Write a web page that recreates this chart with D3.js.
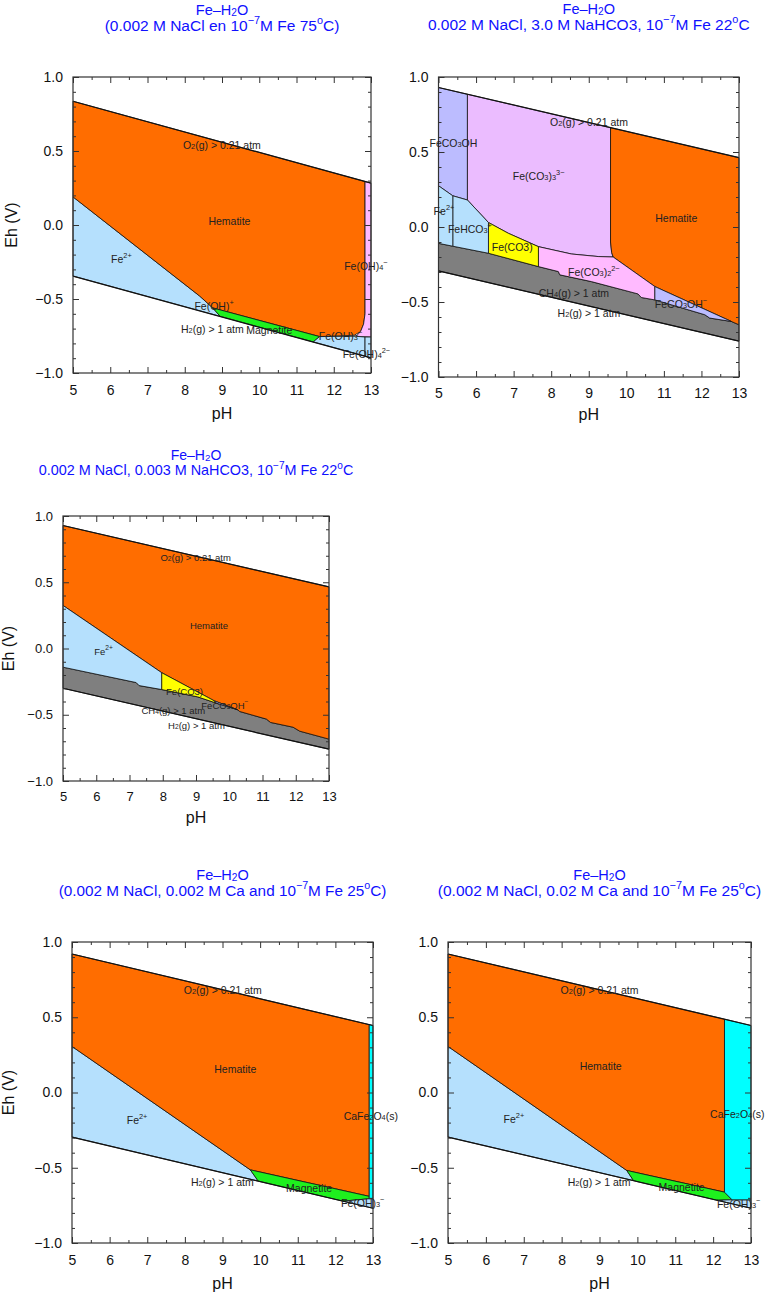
<!DOCTYPE html>
<html>
<head>
<meta charset="utf-8">
<title>Fe-H2O Eh-pH diagrams</title>
<script src="https://d3js.org/d3.v7.min.js"></script>
<style>
  body { margin: 0; background: #fff; }
  text { font-family: "Liberation Sans", Arial, Helvetica, sans-serif; }
</style>
</head>
<body>
<svg width="775" height="1295"></svg>
<script>
// ---- axis ticks ----
var phTicks = [5, 6, 7, 8, 9, 10, 11, 12, 13];
var phMinor = [5.5, 6.5, 7.5, 8.5, 9.5, 10.5, 11.5, 12.5];
var ehTicks = [-1, -0.5, 0, 0.5, 1];
var ehMinor = [-0.9, -0.8, -0.7, -0.6, -0.4, -0.3, -0.2, -0.1, 0.1, 0.2, 0.3, 0.4, 0.6, 0.7, 0.8, 0.9];

// ---- panel 1 : 75 C ----
var p1O2 = [[5, 0.836], [13, 0.283]];
var p1H2 = [[5, -0.345], [13, -0.898]];
var p1Hematite = [[5, 0.836], [12.84, 0.294], [12.84, -0.6], [12.8, -0.67], [12.72, -0.72], [12.55, -0.745], [11.62, -0.754], [8.75, -0.56], [8.4, -0.48], [5, 0.19]];
var p1Fe2 = [[5, 0.19], [8.4, -0.48], [8.75, -0.56], [8.95, -0.617], [5, -0.345]];
var p1Magnetite = [[8.75, -0.56], [11.62, -0.754], [11.45, -0.79], [8.95, -0.617]];
var p1FeOH4 = [[12.84, 0.294], [13, 0.283], [13, -0.757], [12.6, -0.752], [12.72, -0.72], [12.8, -0.67], [12.84, -0.6]];
var p1FeOH3 = [[11.62, -0.754], [12.6, -0.752], [12.84, -0.757], [12.84, -0.886], [11.45, -0.79]];
var p1FeOH4b = [[12.84, -0.757], [13, -0.757], [13, -0.898], [12.84, -0.886]];
var p1Labels = [
  ["O_{2}(g) > 0.21 atm", 7.95, 0.54, "start"],
  ["Hematite", 9.2, 0.03, "middle"],
  ["Fe^{2+}", 6.3, -0.23, "middle"],
  ["Fe(OH)_{4}^{−}", 12.28, -0.275, "start"],
  ["Fe(OH)^{+}", 8.26, -0.55, "start"],
  ["H_{2}(g) > 1 atm", 7.9, -0.70, "start"],
  ["Magnetite", 9.65, -0.71, "start"],
  ["Fe(OH)_{3}^{−}", 11.6, -0.75, "start"],
  ["Fe(OH)_{4}^{2−}", 12.24, -0.87, "start"]
];

// ---- panel 2 : 3.0 M NaHCO3, 22 C ----
var p2O2 = [[5, 0.93], [13, 0.462]];
var p2H2 = [[5, -0.293], [13, -0.761]];
var p2CH4 = [[5, -0.109], [5.38, -0.128], [6.33, -0.175], [7.66, -0.264], [8.19, -0.297], [8.23, -0.319], [9.07, -0.364], [10.31, -0.446], [10.4, -0.47], [10.76, -0.486], [12.09, -0.585], [12.22, -0.607], [12.8, -0.63], [13, -0.652]];
var p2FeCO3OH = [[5, 0.93], [5.77, 0.885], [5.77, 0.18], [5.38, 0.208], [5, 0.275]];
var p2FeCO33 = [[5.77, 0.885], [9.58, 0.662], [9.58, -0.10], [9.61, -0.17], [9.65, -0.2], [9.25, -0.197], [8.54, -0.18], [7.66, -0.131], [6.86, -0.042], [6.33, 0.03], [5.77, 0.18]];
var p2Hematite = [[9.58, 0.662], [13, 0.462], [13, -0.652], [12.8, -0.63], [10.76, -0.397], [9.65, -0.2], [9.61, -0.17], [9.58, -0.10]];
var p2FeCO32 = [[7.66, -0.131], [8.54, -0.18], [9.25, -0.197], [9.65, -0.2], [10.76, -0.397], [10.76, -0.486], [10.4, -0.47], [10.31, -0.446], [9.07, -0.364], [8.23, -0.319], [8.19, -0.297], [7.66, -0.264]];
var p2FeCO3OHm = [[10.76, -0.397], [12.8, -0.63], [12.22, -0.607], [12.09, -0.585], [10.76, -0.486]];
var p2FeCO3 = [[6.33, 0.03], [6.86, -0.042], [7.66, -0.131], [7.66, -0.264], [6.33, -0.175]];
var p2FeHCO3 = [[5.38, 0.208], [5.77, 0.18], [6.33, 0.03], [6.33, -0.175], [5.38, -0.128]];
var p2Fe2 = [[5, 0.275], [5.38, 0.208], [5.38, -0.128], [5, -0.109]];
var p2Labels = [
  ["O_{2}(g) > 0.21 atm", 7.97, 0.70, "start"],
  ["FeCO_{3}OH", 4.76, 0.56, "start"],
  ["Fe(CO_{3})_{3}^{3−}", 6.98, 0.34, "start"],
  ["Hematite", 11.33, 0.06, "middle"],
  ["Fe^{2+}", 4.87, 0.11, "start"],
  ["FeHCO_{3}^{+}", 5.25, -0.015, "start"],
  ["Fe(CO3)", 6.42, -0.13, "start"],
  ["Fe(CO_{3})_{2}^{2−}", 8.45, -0.30, "start"],
  ["CH_{4}(g) > 1 atm", 7.67, -0.44, "start"],
  ["FeCO_{3}OH^{−}", 10.76, -0.51, "start"],
  ["H_{2}(g) > 1 atm", 8.17, -0.575, "start"]
];

// ---- panel 3 : 0.003 M NaHCO3, 22 C ----
var p3O2 = [[5, 0.928], [13, 0.465]];
var p3H2 = [[5, -0.30], [13, -0.76]];
var p3CH4 = [[5, -0.141], [7.2, -0.257], [7.29, -0.28], [7.97, -0.31], [9.05, -0.365], [9.62, -0.413], [10.25, -0.462], [10.31, -0.475], [11.12, -0.533], [11.24, -0.558], [11.92, -0.594], [12.12, -0.624], [13, -0.684]];
var p3Hematite = [[5, 0.928], [13, 0.465], [13, -0.684], [12.12, -0.624], [11.92, -0.594], [11.24, -0.558], [11.12, -0.533], [10.31, -0.475], [10.25, -0.462], [9.55, -0.395], [7.97, -0.183], [5, 0.325]];
var p3Fe2 = [[5, 0.325], [7.97, -0.183], [7.97, -0.31], [7.29, -0.28], [7.2, -0.257], [5, -0.141]];
var p3FeCO3 = [[7.97, -0.183], [9.55, -0.395], [9.62, -0.413], [9.05, -0.365], [7.97, -0.31]];
var p3FeCO3OHm = [[9.55, -0.395], [10.25, -0.462], [9.62, -0.413]];
var p3Labels = [
  ["O_{2}(g) > 0.21 atm", 7.93, 0.694, "start"],
  ["Hematite", 9.39, 0.18, "middle"],
  ["Fe^{2+}", 6.22, -0.02, "middle"],
  ["Fe(CO3)", 8.1, -0.317, "start"],
  ["FeCO_{3}OH^{−}", 9.16, -0.425, "start"],
  ["CH_{4}(g) > 1 atm", 7.36, -0.463, "start"],
  ["H_{2}(g) > 1 atm", 8.16, -0.58, "start"]
];

// ---- panel 4 : 0.002 M Ca, 25 C ----
var p4O2 = [[5, 0.92], [13, 0.445]];
var p4H2 = [[5, -0.296], [13, -0.769]];
var p4Hematite = [[5, 0.92], [12.9, 0.451], [12.9, -0.69], [9.74, -0.514], [5, 0.306]];
var p4Fe2 = [[5, 0.306], [9.74, -0.514], [9.95, -0.589], [5, -0.296]];
var p4Magnetite = [[9.74, -0.514], [12.9, -0.69], [12.9, -0.706], [12.2, -0.722], [10.2, -0.604], [9.95, -0.589]];
var p4FeOH3 = [[12.2, -0.722], [12.9, -0.706], [13, -0.705], [13, -0.769]];
var p4CaFe2O4 = [[12.9, 0.451], [13, 0.445], [13, -0.705], [12.9, -0.706]];
var p4Labels = [
  ["O_{2}(g) > 0.21 atm", 7.97, 0.68, "start"],
  ["Hematite", 9.34, 0.155, "middle"],
  ["Fe^{2+}", 6.73, -0.18, "middle"],
  ["CaFe_{2}O_{4}(s)", 12.22, -0.153, "start"],
  ["H_{2}(g) > 1 atm", 8.16, -0.598, "start"],
  ["Magnetite", 10.69, -0.636, "start"],
  ["Fe(OH)_{3}^{−}", 12.15, -0.735, "start"]
];

// ---- panel 5 : 0.02 M Ca, 25 C ----
var p5O2 = [[5, 0.92], [13, 0.445]];
var p5H2 = [[5, -0.296], [13, -0.769]];
var p5Hematite = [[5, 0.92], [12.3, 0.488], [12.3, -0.662], [9.72, -0.518], [5, 0.306]];
var p5Fe2 = [[5, 0.306], [9.72, -0.518], [9.9, -0.586], [5, -0.296]];
var p5Magnetite = [[9.72, -0.518], [12.3, -0.662], [12.5, -0.713], [12.1, -0.716], [10.05, -0.596], [9.9, -0.586]];
var p5FeOH3 = [[12.1, -0.716], [12.5, -0.713], [13, -0.713], [13, -0.769]];
var p5CaFe2O4 = [[12.3, 0.488], [13, 0.445], [13, -0.713], [12.5, -0.713], [12.3, -0.662]];
var p5Labels = [
  ["O_{2}(g) > 0.21 atm", 7.97, 0.68, "start"],
  ["Hematite", 9.03, 0.177, "middle"],
  ["Fe^{2+}", 6.74, -0.177, "middle"],
  ["CaFe_{2}O_{4}(s)", 11.92, -0.142, "start"],
  ["H_{2}(g) > 1 atm", 8.16, -0.598, "start"],
  ["Magnetite", 10.56, -0.63, "start"],
  ["Fe(OH)_{3}^{−}", 12.1, -0.74, "start"]
];

var titles = [
  ["Fe–H_{2}O", "(0.002 M NaCl en 10^{−7}M Fe 75^{o}C)"],
  ["Fe–H_{2}O", "0.002 M NaCl, 3.0 M NaHCO3, 10^{−7}M Fe 22^{o}C"],
  ["Fe–H_{2}O", "0.002 M NaCl, 0.003 M NaHCO3, 10^{−7}M Fe 22^{o}C"],
  ["Fe–H_{2}O", "(0.002 M NaCl, 0.002 M Ca and 10^{−7}M Fe 25^{o}C)"],
  ["Fe–H_{2}O", "(0.002 M NaCl, 0.02 M Ca and 10^{−7}M Fe 25^{o}C)"]
];

var COL = {
  hem: "#ff6d00", fe2: "#b5e0fd", mag: "#1ef01e", cyan: "#00ffff",
  gray: "#7f7f7f", lav: "#bcbcff", violet: "#ebbcff", pink: "#ffbaff", yellow: "#ffff00"
};

// layout of each panel
var panels = [
  { x0: 73, x1: 371, y0: 77, y1: 373, t: titles[0], tY: [10, 25], tFs: [14.5, 15.5], fs: 14, lfs: 10.5, pad: 12, xT: 413, yT: 11,
    o2: p1O2, h2: p1H2, labels: p1Labels,
    regions: [[p1Fe2, COL.fe2], [p1Hematite, COL.hem], [p1Magnetite, COL.mag], [p1FeOH4, COL.pink], [p1FeOH3, COL.fe2], [p1FeOH4b, COL.fe2]] },
  { x0: 438.5, x1: 739, y0: 77, y1: 377, t: titles[1], tY: [9, 24], tFs: [14.5, 15.5], fs: 14, lfs: 10.5, pad: 11, xT: 414, yT: null,
    o2: p2O2, h2: p2H2, labels: p2Labels,
    regions: [[p2CH4.concat([[13, -0.761], [5, -0.293]]), COL.gray], [p2FeCO3OH, COL.lav], [p2FeCO33, COL.violet], [p2Hematite, COL.hem],
              [p2FeCO32, COL.pink], [p2FeCO3OHm, COL.lav], [p2FeCO3, COL.yellow], [p2FeHCO3, COL.fe2], [p2Fe2, COL.fe2]] },
  { x0: 63, x1: 329, y0: 516, y1: 781, t: titles[2], tY: [455, 470], tFs: [14, 14.4], fs: 13, lfs: 9.5, pad: 11, xT: 817, yT: 8,
    o2: p3O2, h2: p3H2, labels: p3Labels,
    regions: [[p3CH4.concat([[13, -0.76], [5, -0.30]]), COL.gray], [p3Hematite, COL.hem], [p3Fe2, COL.fe2], [p3FeCO3, COL.yellow], [p3FeCO3OHm, COL.lav]] },
  { x0: 72, x1: 373, y0: 942, y1: 1243, t: titles[3], tY: [875, 890], tFs: [14.5, 15.3], fs: 14, lfs: 10.5, pad: 12, xT: 1283, yT: 8,
    o2: p4O2, h2: p4H2, labels: p4Labels,
    regions: [[p4Fe2, COL.fe2], [p4Hematite, COL.hem], [p4Magnetite, COL.mag], [p4FeOH3, COL.fe2], [p4CaFe2O4, COL.cyan]] },
  { x0: 448, x1: 751, y0: 942, y1: 1243, t: titles[4], tY: [875, 890], tFs: [14.5, 15.5], fs: 14, lfs: 10.5, pad: 12, xT: 1283, yT: null,
    o2: p5O2, h2: p5H2, labels: p5Labels,
    regions: [[p5Fe2, COL.fe2], [p5Hematite, COL.hem], [p5Magnetite, COL.mag], [p5FeOH3, COL.fe2], [p5CaFe2O4, COL.cyan]] }
];

var svg = d3.select("svg");

// writes "a_{b}c^{d}" as text with sub/superscripts
function rich(sel, str) {
  str.split(/([_^]\{[^}]*\})/).filter(function (s) { return s; }).forEach(function (p) {
    if (p[0] === "_" && p[1] === "{") {
      sel.append("tspan").attr("font-size", "70%").attr("baseline-shift", "-22%").text(p.slice(2, -1));
    } else if (p[0] === "^" && p[1] === "{") {
      sel.append("tspan").attr("font-size", "70%").attr("baseline-shift", "45%").text(p.slice(2, -1));
    } else {
      sel.append("tspan").text(p);
    }
  });
}

panels.forEach(function (p) {
  var x = d3.scaleLinear().domain([5, 13]).range([p.x0, p.x1]);
  var y = d3.scaleLinear().domain([-1, 1]).range([p.y1, p.y0]);
  var line = d3.line().x(function (d) { return x(d[0]); }).y(function (d) { return y(d[1]); });
  var g = svg.append("g");
  var w = p.x1 - p.x0, h = p.y1 - p.y0;

  // regions
  g.selectAll("path.reg").data(p.regions).enter().append("path")
    .attr("class", "reg")
    .attr("d", function (r) { return line(r[0]) + "Z"; })
    .style("fill", function (r) { return r[1]; })
    .style("stroke", "#111").style("stroke-width", 0.8).style("stroke-linejoin", "round");

  // water stability limits
  [p.o2, p.h2].forEach(function (l) {
    g.append("path").attr("d", line(l)).style("fill", "none").style("stroke", "#111").style("stroke-width", 1.2);
  });

  // ticks, inward on all four sides
  function fmt(d) { return d3.format(".1f")(d); }
  g.append("g").attr("transform", "translate(0," + p.y1 + ")")
    .call(d3.axisBottom(x).tickValues(phTicks).tickSizeInner(-6).tickSizeOuter(0).tickPadding(p.pad));
  g.append("g").attr("transform", "translate(0," + p.y1 + ")")
    .call(d3.axisBottom(x).tickValues(phMinor).tickSizeInner(-3).tickSizeOuter(0).tickFormat(""));
  g.append("g").attr("transform", "translate(0," + p.y0 + ")")
    .call(d3.axisTop(x).tickValues(phTicks).tickSizeInner(-6).tickSizeOuter(0).tickFormat(""));
  g.append("g").attr("transform", "translate(0," + p.y0 + ")")
    .call(d3.axisTop(x).tickValues(phMinor).tickSizeInner(-3).tickSizeOuter(0).tickFormat(""));
  g.append("g").attr("transform", "translate(" + p.x0 + ",0)")
    .call(d3.axisLeft(y).tickValues(ehTicks).tickSizeInner(-6).tickSizeOuter(0).tickPadding(10).tickFormat(fmt));
  g.append("g").attr("transform", "translate(" + p.x0 + ",0)")
    .call(d3.axisLeft(y).tickValues(ehMinor).tickSizeInner(-3).tickSizeOuter(0).tickFormat(""));
  g.append("g").attr("transform", "translate(" + p.x1 + ",0)")
    .call(d3.axisRight(y).tickValues(ehTicks).tickSizeInner(-6).tickSizeOuter(0).tickFormat(""));
  g.append("g").attr("transform", "translate(" + p.x1 + ",0)")
    .call(d3.axisRight(y).tickValues(ehMinor).tickSizeInner(-3).tickSizeOuter(0).tickFormat(""));
  g.selectAll(".domain").remove();
  g.selectAll(".tick line").style("stroke", "#333");
  g.selectAll(".tick text").style("font-size", p.fs + "px").style("fill", "#111")
    .style("font-family", '"Liberation Sans", Arial, sans-serif');

  // frame
  g.append("rect").attr("x", p.x0).attr("y", p.y0).attr("width", w).attr("height", h)
    .style("fill", "none").style("stroke", "#333").style("stroke-width", 1.2);

  // region labels
  p.labels.forEach(function (l) {
    var t = g.append("text").attr("x", x(l[1])).attr("y", y(l[2]))
      .attr("text-anchor", l[3]).attr("dominant-baseline", "central")
      .style("font-size", p.lfs + "px").style("fill", "#222");
    rich(t, l[0]);
  });

  // titles
  p.t.forEach(function (s, i) {
    var t = svg.append("text").attr("x", (p.x0 + p.x1) / 2).attr("y", p.tY[i])
      .attr("text-anchor", "middle").attr("dominant-baseline", "central")
      .style("font-size", p.tFs[i] + "px").style("fill", "#1010ff");
    rich(t, s);
  });

  // axis titles
  svg.append("text").attr("x", (p.x0 + p.x1) / 2).attr("y", p.xT)
    .attr("text-anchor", "middle").attr("dominant-baseline", "central")
    .style("font-size", "16px").style("fill", "#111").text("pH");
  if (p.yT !== null) {
    svg.append("text").attr("transform", "translate(" + p.yT + "," + ((p.y0 + p.y1) / 2) + ") rotate(-90)")
      .attr("text-anchor", "middle").attr("dominant-baseline", "central")
      .style("font-size", "16px").style("fill", "#111").text("Eh (V)");
  }
});
</script>
</body>
</html>
